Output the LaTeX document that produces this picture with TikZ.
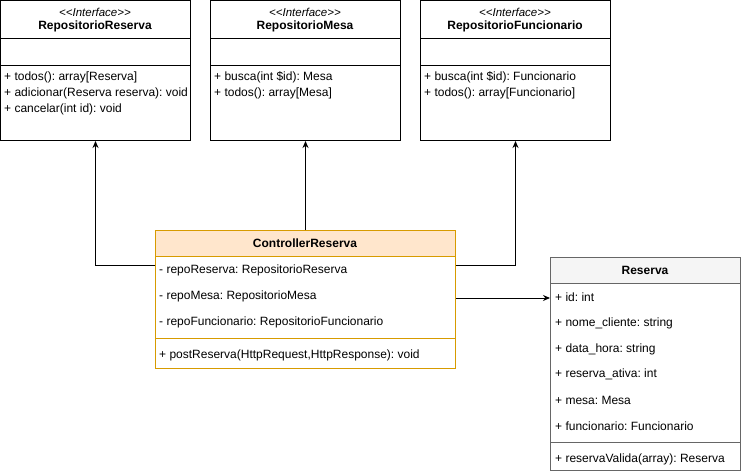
\documentclass[tikz,border=0pt]{standalone}
\usepackage{fontspec}
\setmainfont{Liberation Sans}
\usetikzlibrary{arrows.meta}
\definecolor{ctrlfill}{HTML}{FFE6CC}
\definecolor{ctrlline}{HTML}{D79B00}
\definecolor{resfill}{HTML}{F5F5F5}
\definecolor{resline}{HTML}{666666}
\frenchspacing
\begin{document}
\begin{tikzpicture}[x=1pt,y=-1pt,
  box/.style={draw,line width=1pt,rectangle,anchor=north west,inner sep=0pt},
  item/.style={anchor=west,inner sep=0pt,font=\fontsize{12}{14}\selectfont},
  title/.style={inner sep=0pt,font=\fontsize{12}{14}\selectfont\bfseries},
  stereo/.style={inner sep=0pt,font=\fontsize{11.5}{13}\selectfont\itshape},
  conn/.style={line width=1pt,-{Stealth[length=7pt,width=6pt]}}]
\useasboundingbox (0,0) rectangle (741,476);
% Interface boxes
\foreach \n/\x/\name in {rr/0/RepositorioReserva, rm/210/RepositorioMesa, rf/420/RepositorioFuncionario}{
  \node[box,minimum width=190pt,minimum height=140pt] (\n) at (\x,0) {};
  \draw[line width=1pt] (\x,39) -- (\x+190,39);
  \draw[line width=1pt] (\x,66) -- (\x+190,66);
  \node[stereo] (\n-st) at (\x+95,12) {<{}<Interface>{}>};
  \node[title] (\n-t) at (\x+95,26) {\name};
}
\node[item] (rr1) at (4,77) {+ todos(): array[Reserva]};
\node[item] (rr2) at (4,93) {+ adicionar(Reserva reserva): void};
\node[item] (rr3) at (4,109) {+ cancelar(int id): void};
\node[item] (rm1) at (214,77) {+ busca(int \$id): Mesa};
\node[item] (rm2) at (214,93) {+ todos(): array[Mesa]};
\node[item] (rf1) at (424,77) {+ busca(int \$id): Funcionario};
\node[item] (rf2) at (424,93) {+ todos(): array[Funcionario]};
% Controller
\node[box,draw=ctrlline,minimum width=300pt,minimum height=138pt] (ctrl) at (155,230) {};
\fill[ctrlfill] (155.5,230.5) rectangle (454.5,256);
\draw[ctrlline,line width=1pt] (155,230) rectangle (455,368);
\draw[ctrlline,line width=1pt] (155,256) -- (455,256);
\draw[ctrlline,line width=1pt] (155,338) -- (455,338);
\node[title] (ctrl-t) at (305,243) {ControllerReserva};
\node[item] (c1) at (159,270) {- repoReserva: RepositorioReserva};
\node[item] (c2) at (159,296) {- repoMesa: RepositorioMesa};
\node[item] (c3) at (159,322) {- repoFuncionario: RepositorioFuncionario};
\node[item] (c4) at (159,355) {+ postReserva(HttpRequest,HttpResponse): void};
% Reserva
\node[box,draw=resline,minimum width=190pt,minimum height=213pt] (res) at (550,257) {};
\fill[resfill] (550.5,257.5) rectangle (739.5,283);
\draw[resline,line width=1pt] (550,257) rectangle (740,470);
\draw[resline,line width=1pt] (550,283) -- (740,283);
\draw[resline,line width=1pt] (550,442) -- (740,442);
\node[title] (res-t) at (645,270) {Reserva};
\node[item] (r1) at (555,297) {+ id: int};
\node[item] (r2) at (555,323) {+ nome\_cliente: string};
\node[item] (r3) at (555,349) {+ data\_hora: string};
\node[item] (r4) at (555,374) {+ reserva\_ativa: int};
\node[item] (r5) at (555,400) {+ mesa: Mesa};
\node[item] (r6) at (555,426) {+ funcionario: Funcionario};
\node[item] (r7) at (555,459) {+ reservaValida(array): Reserva};
% connectors
\draw[conn] (ctrl.north west |- 0,265) -| (rr.south);
\draw[conn] (ctrl.north) -- (rm.south);
\draw[conn] (ctrl.north east |- 0,265) -| (rf.south);
\draw[conn] (ctrl.north east |- 0,298) -- (res.north west |- 0,298);
\end{tikzpicture}
\end{document}
